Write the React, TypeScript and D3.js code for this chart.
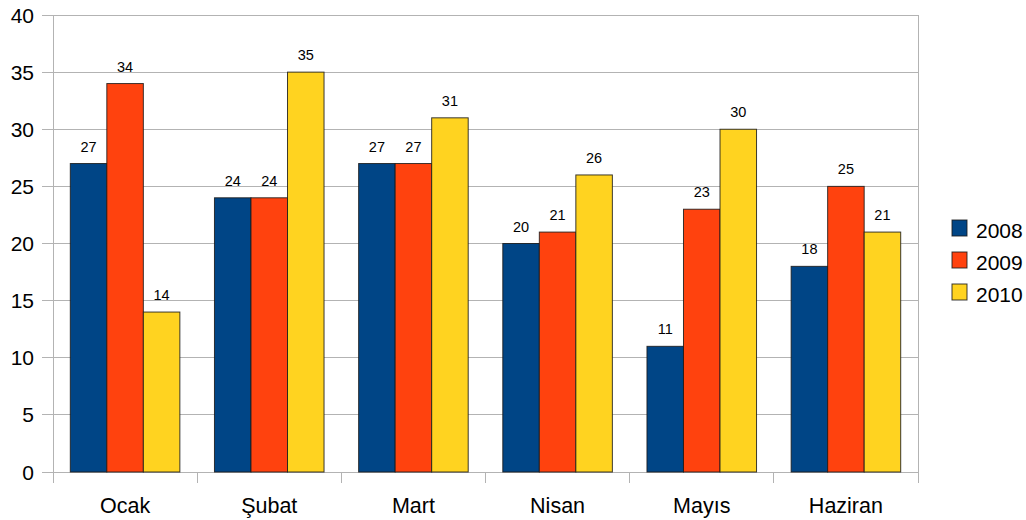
import React from "react";
import * as d3 from "d3";

const categories = ["Ocak", "Şubat", "Mart", "Nisan", "Mayıs", "Haziran"];
const seriesNames = ["2008", "2009", "2010"];
const values2008 = [27, 24, 27, 20, 11, 18];
const values2009 = [34, 24, 27, 21, 23, 25];
const values2010 = [14, 35, 31, 26, 30, 21];
const yTicks = [0, 5, 10, 15, 20, 25, 30, 35, 40];
const colors = ["#004586", "#ff420e", "#ffd320"];

const W = 1026;
const H = 520;
const left = 53;
const right = 918;
const top = 15;
const bottom = 472;
const font = "'Liberation Sans', Arial, sans-serif";

export default function App() {
  const series = [values2008, values2009, values2010];
  const x0 = d3
    .scaleBand<string>()
    .domain(categories)
    .range([left, right])
    .paddingInner(0.24)
    .paddingOuter(0.12);
  const x1 = d3
    .scaleBand<string>()
    .domain(seriesNames)
    .range([0, x0.bandwidth()])
    .padding(0);
  const y = d3.scaleLinear().domain([0, 40]).range([bottom, top]);
  const step = (right - left) / categories.length;

  return (
    <svg
      width={W}
      height={H}
      style={{ position: "absolute", left: 0, top: 0, background: "#fff" }}
      fontFamily={font}
    >
      {/* grid lines */}
      {yTicks.map((t) => (
        <g key={t}>
          <line
            x1={42}
            x2={right}
            y1={y(t)}
            y2={y(t)}
            stroke="#b3b3b3"
            strokeWidth={1}
            shapeRendering="crispEdges"
          />
          <text
            x={34}
            y={y(t)}
            dy="0.36em"
            textAnchor="end"
            fontSize={21}
            fill="#000"
          >
            {t}
          </text>
        </g>
      ))}
      {/* vertical axis lines */}
      <line x1={left} x2={left} y1={top} y2={bottom + 11} stroke="#b3b3b3" shapeRendering="crispEdges" />
      <line x1={right} x2={right} y1={top} y2={bottom + 11} stroke="#b3b3b3" shapeRendering="crispEdges" />
      {categories.map((c, i) =>
        i > 0 ? (
          <line
            key={"tk" + c}
            x1={left + i * step}
            x2={left + i * step}
            y1={bottom}
            y2={bottom + 11}
            stroke="#b3b3b3"
            shapeRendering="crispEdges"
          />
        ) : null
      )}
      {/* bars */}
      {categories.map((c, i) => (
        <g key={c} transform={`translate(${x0(c)},0)`}>
          {seriesNames.map((s, j) => {
            const v = series[j][i];
            const bx = x1(s)!;
            return (
              <g key={s}>
                <rect
                  x={bx}
                  y={y(v)}
                  width={x1.bandwidth()}
                  height={bottom - y(v)}
                  fill={colors[j]}
                  stroke="#1a1a1a"
                  strokeOpacity={0.85}
                  strokeWidth={1}
                />
                <text
                  x={bx + x1.bandwidth() / 2}
                  y={y(v) - 12}
                  textAnchor="middle"
                  fontSize={14.5}
                  fill="#000"
                >
                  {v}
                </text>
              </g>
            );
          })}
        </g>
      ))}
      {/* category labels */}
      {categories.map((c) => (
        <text
          key={"cl" + c}
          x={x0(c)! + x0.bandwidth() / 2}
          y={513}
          textAnchor="middle"
          fontSize={21.5}
          fill="#000"
        >
          {c}
        </text>
      ))}
      {/* legend */}
      {seriesNames.map((s, j) => (
        <g key={"lg" + s} transform={`translate(952,${220 + j * 32})`}>
          <rect x={0} y={0} width={15} height={16} fill={colors[j]} stroke="#1a1a1a" strokeOpacity={0.85} />
          <text x={24} y={18} fontSize={21} fill="#000">
            {s}
          </text>
        </g>
      ))}
    </svg>
  );
}
